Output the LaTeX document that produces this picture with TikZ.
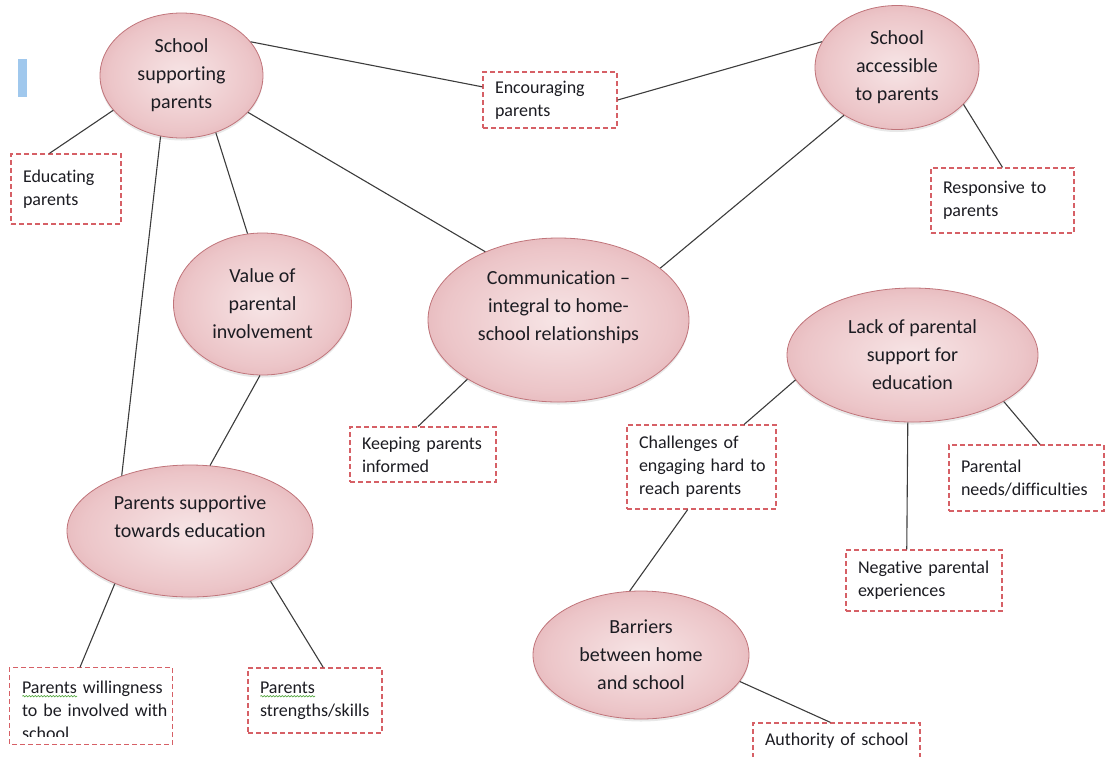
\documentclass[tikz,border=0pt]{standalone}
\usepackage{fontspec}
\setmainfont[Ligatures={TeX,NoCommon}]{Carlito}
\usetikzlibrary{shapes.geometric,shadows,decorations.pathmorphing}

\definecolor{ellin}{RGB}{247,229,230}
\definecolor{ellmid}{RGB}{236,197,200}
\definecolor{ellout}{RGB}{206,128,134}
\definecolor{ellrim}{RGB}{192,116,122}
\definecolor{boxred}{RGB}{214,96,102}
\definecolor{linegray}{RGB}{60,60,60}
\definecolor{txt}{RGB}{28,28,34}
\definecolor{barblue}{RGB}{160,200,237}
\definecolor{spellgreen}{RGB}{90,170,70}

\pgfdeclareradialshading{ellshade}{\pgfpoint{0bp}{0bp}}{color(0bp)=(ellin); color(22bp)=(ellmid); color(50bp)=(ellout)}

\hyphenpenalty=10000
\exhyphenpenalty=10000
\newcommand\ellfont{\fontsize{20}{28}\selectfont}
\newcommand\boxfont{\fontsize{18}{23}\selectfont}
% green wavy underline under a word
\newcommand\spellwave[1]{\setbox0=\hbox{#1}\rlap{\tikz[baseline=0pt]\draw[spellgreen, solid, line width=0.7pt, decorate, decoration={snake, amplitude=0.7pt, segment length=3pt}] (0pt,-3pt) -- (\the\wd0,-3pt);}\box0\relax}

\begin{document}
\begin{tikzpicture}[x=1pt,y=-1pt,
  ell/.style={ellipse, draw=ellrim, line width=0.8pt, shading=ellshade, inner sep=0pt,
    align=center, text=txt, font=\ellfont,
    drop shadow={shadow xshift=0pt, shadow yshift=-2.5pt, opacity=0.18}},
  boxframe/.style={draw=boxred, line width=1.2pt, dash pattern=on 5pt off 3pt},
  box/.style={rectangle, boxframe, fill=white, inner xsep=12pt, inner ysep=0pt,
    align=left, text=txt, font=\boxfont},
  conn/.style={draw=linegray, line width=1.1pt}]

\useasboundingbox (0,0) rectangle (1107,756);

% small blue marker at the left margin
\fill[barblue] (18,59) rectangle (27,97);

% themes
\node[ell, minimum width=163pt, minimum height=125pt] (ssp) at (181.5,75.5) {School\\supporting\\parents};
\node[ell, minimum width=164pt, minimum height=124pt] (sap) at (897,67.5) {School\\accessible\\to parents};
\node[ell, minimum width=178pt, minimum height=142pt] (val) at (262.5,304) {Value of\\parental\\involvement};
\node[ell, minimum width=261pt, minimum height=164pt] (comm) at (558.5,320) {Communication –\\integral to home-\\school relationships\\\mbox{}};
\node[ell, minimum width=251pt, minimum height=134pt] (lack) at (912.5,355) {Lack of parental\\support for\\education};
\node[ell, minimum width=246pt, minimum height=132pt] (sup) at (190,531) {Parents supportive\\towards education\\\mbox{}};
\node[ell, minimum width=216pt, minimum height=128pt] (bar) at (641,655) {Barriers\\between home\\and school};

% sub-themes
\node[box, text width=86pt, minimum height=70pt] (edu) at (66,189) {Educating\\parents};
\node[box, text width=110pt, minimum height=56pt] (enc) at (550,100) {Encouraging\\parents};
\node[box, text width=119pt, minimum height=65pt] (resp) at (1002.5,200.5) {Responsive~to\\parents};
\node[box, text width=122pt, minimum height=55pt] (keep) at (423,454.5) {Keeping~parents\\informed};
\node[box, text width=125pt, minimum height=84pt] (chal) at (701.5,467) {Challenges~of\\engaging~hard~to\\reach~parents};
\node[box, text width=131pt, minimum height=66pt] (need) at (1026.5,478) {Parental\\needs/difficulties};
\node[box, text width=132pt, minimum height=61pt] (neg) at (924,580.5) {Negative~parental\\experiences};
\node[box, text width=110pt, minimum height=65pt] (str) at (315,700.5) {\spellwave{Parents}\\strengths/skills};
\node[box, text width=143pt, minimum height=36pt] (auth) at (836.5,741) {Authority~of~school};

% this box cuts its last line short
\begin{scope}
  \clip (0,600) rectangle (200,736);
  \node[box, draw=none, fill=none, text width=138pt, minimum height=76pt] (will) at (91,710) {\spellwave{Parents}~willingness\\to~be~involved~with\\school};
\end{scope}
\draw[boxframe] ([yshift=4pt]will.north west) rectangle ([yshift=4pt]will.south east);

% links
\draw[conn] (ssp.26) -- (enc.169);
\draw[conn] (enc.east) -- (sap.161);
\draw[conn] (ssp.207) -- (edu.115);
\draw[conn] (ssp.331) -- (comm.137);
\draw[conn] (ssp.251) -- (sup.141);
\draw[conn] (ssp.301) -- (val.102);
\draw[conn] (val.268) -- (sup.73);
\draw[conn] (sap.222) -- (comm.27);
\draw[conn] (sap.331) -- (resp.north);
\draw[conn] (comm.213) -- (keep.100);
\draw[conn] (lack.192) -- (chal.45);
\draw[conn] (chal.252) -- (bar.100);
\draw[conn] (lack.266) -- (neg.119);
\draw[conn] (lack.333) -- (need.68);
\draw[conn] (sup.215) -- ([yshift=4pt]will.106);
\draw[conn] (sup.328) -- (str.76);
\draw[conn] (bar.345) -- (auth.108);
\end{tikzpicture}
\end{document}
